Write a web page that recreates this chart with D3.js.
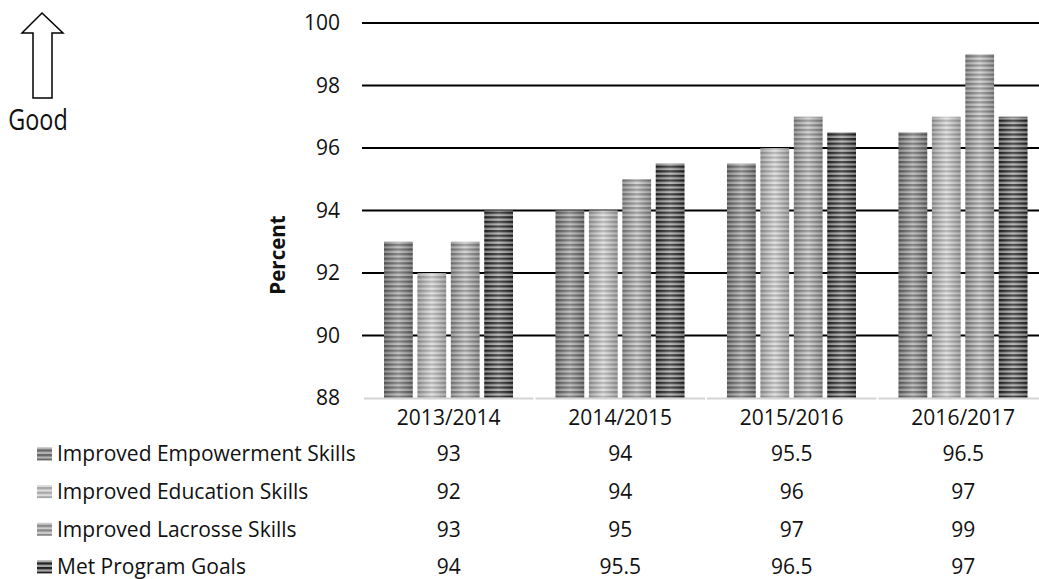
<!DOCTYPE html>
<html>
<head>
<meta charset="utf-8">
<script src="https://cdn.jsdelivr.net/npm/d3@7"></script>
<style>
  html, body { margin: 0; padding: 0; background: #fff; }
  svg { display: block; }
  text { font-family: "Open Sans", "Noto Sans", sans-serif; fill: #111; }
</style>
</head>
<body>
<svg id="chart" width="1039" height="579"></svg>
<script>
// Program outcome percentages by school year
const categories = ["2013/2014", "2014/2015", "2015/2016", "2016/2017"];
const seriesNames = [
  "Improved Empowerment Skills",
  "Improved Education Skills",
  "Improved Lacrosse Skills",
  "Met Program Goals"
];
const empowerment = [93, 94, 95.5, 96.5];
const education   = [92, 94, 96, 97];
const lacrosse    = [93, 95, 97, 99];
const metGoals    = [94, 95.5, 96.5, 97];
const seriesValues = [empowerment, education, lacrosse, metGoals];
const yTicks = [88, 90, 92, 94, 96, 98, 100];

// Stripe fills for each series: [dark stripe, light stripe]
const stripeColors = [
  ["#666666", "#b4b4b4"],
  ["#a6a6a6", "#dcdcdc"],
  ["#878787", "#cbcbcb"],
  ["#222222", "#a8a8a8"]
];

const svg = d3.select("#chart");
const defs = svg.append("defs");

stripeColors.forEach((c, i) => {
  const p = defs.append("pattern")
    .attr("id", "stripe" + i)
    .attr("patternUnits", "userSpaceOnUse")
    .attr("width", 10).attr("height", 4.6);
  p.append("rect").attr("width", 10).attr("height", 4.6).attr("fill", c[1]);
  p.append("rect").attr("width", 10).attr("height", 2.3).attr("fill", c[0]);
});

const shade = defs.append("linearGradient")
  .attr("id", "shade").attr("x1", 0).attr("x2", 1).attr("y1", 0).attr("y2", 0);
shade.append("stop").attr("offset", "0%").attr("stop-color", "#000").attr("stop-opacity", 0.22);
shade.append("stop").attr("offset", "50%").attr("stop-color", "#fff").attr("stop-opacity", 0.2);
shade.append("stop").attr("offset", "100%").attr("stop-color", "#000").attr("stop-opacity", 0.22);

// Scales
const x = d3.scaleBand().domain(categories).range([363, 1049]).padding(0);
const xs = d3.scaleBand().domain(d3.range(seriesNames.length))
  .range([21, 150]).paddingInner(0.14).paddingOuter(0);
const y = d3.scaleLinear().domain([88, 100]).range([398, 23]);

// Gridlines
svg.append("g").selectAll("line")
  .data(yTicks.filter(t => t > 88))
  .join("line")
  .attr("x1", 362).attr("x2", 1049)
  .attr("y1", d => y(d)).attr("y2", d => y(d))
  .attr("stroke", "#000").attr("stroke-width", 2);

// Y axis labels
const yAxis = d3.axisLeft(y).tickValues(yTicks).tickSize(0).tickPadding(0);
const gy = svg.append("g").attr("transform", "translate(340,0)").call(yAxis);
gy.select(".domain").remove();
gy.selectAll("text")
  .attr("font-family", "'Open Sans', sans-serif")
  .attr("font-size", 21).attr("fill", "#111");

// Y axis title
svg.append("text")
  .attr("transform", `translate(285,255) rotate(-90)`)
  .attr("text-anchor", "middle")
  .attr("font-size", 20.5).attr("font-weight", "bold")
  .text("Percent");

// Bars
const groups = svg.append("g").selectAll("g")
  .data(categories)
  .join("g")
  .attr("transform", d => `translate(${x(d)},0)`);

groups.each(function(cat, ci) {
  const g = d3.select(this);
  seriesValues.forEach((vals, si) => {
    const bx = xs(si), bw = xs.bandwidth();
    const top = y(vals[ci]), h = y(88) - y(vals[ci]);
    g.append("rect")
      .attr("x", bx).attr("y", top).attr("width", bw).attr("height", h)
      .attr("fill", `url(#stripe${si})`);
    g.append("rect")
      .attr("x", bx).attr("y", top).attr("width", bw).attr("height", h)
      .attr("fill", "url(#shade)");
  });
});

// Category axis line, broken at category boundaries
svg.append("g").selectAll("line")
  .data(categories)
  .join("line")
  .attr("x1", d => x(d) + 1).attr("x2", d => x(d) + x.bandwidth() - 1)
  .attr("y1", 398.5).attr("y2", 398.5)
  .attr("stroke", "#d4d4d4").attr("stroke-width", 2);

// Category labels
svg.append("g").selectAll("text")
  .data(categories)
  .join("text")
  .attr("x", d => x(d) + x.bandwidth() / 2)
  .attr("y", 418)
  .attr("dy", "0.35em")
  .attr("text-anchor", "middle")
  .attr("font-size", 21)
  .text(d => d);

// Data table with legend keys
const rowY = d3.scalePoint().domain(d3.range(seriesNames.length)).range([454, 567]);
const rows = svg.append("g").selectAll("g")
  .data(seriesNames)
  .join("g")
  .attr("transform", (d, i) => `translate(0,${rowY(i)})`);

rows.append("rect")
  .attr("x", 37).attr("y", -6.5).attr("width", 15).attr("height", 13)
  .attr("fill", (d, i) => `url(#stripe${i})`);
rows.append("text")
  .attr("x", 57).attr("dy", "0.35em")
  .attr("font-size", 21)
  .text(d => d);
rows.each(function(name, si) {
  d3.select(this).selectAll("text.val")
    .data(seriesValues[si])
    .join("text")
    .attr("class", "val")
    .attr("x", (v, ci) => x(categories[ci]) + x.bandwidth() / 2)
    .attr("dy", "0.35em")
    .attr("text-anchor", "middle")
    .attr("font-size", 21)
    .text(v => v);
});

// "Good" direction marker
const arrow = d3.path();
arrow.moveTo(42, 13);
arrow.lineTo(63, 33);
arrow.lineTo(52, 33);
arrow.lineTo(52, 98);
arrow.lineTo(33, 98);
arrow.lineTo(33, 33);
arrow.lineTo(22, 33);
arrow.closePath();
svg.append("path").attr("d", arrow.toString())
  .attr("fill", "#fff").attr("stroke", "#000").attr("stroke-width", 1.5);

svg.append("text")
  .attr("transform", "translate(38,119) scale(0.78,1)")
  .attr("text-anchor", "middle")
  .attr("dy", "0.35em")
  .attr("font-family", "'Liberation Sans', Arial, sans-serif")
  .attr("font-size", 30)
  .attr("fill", "#000")
  .text("Good");
</script>
</body>
</html>
